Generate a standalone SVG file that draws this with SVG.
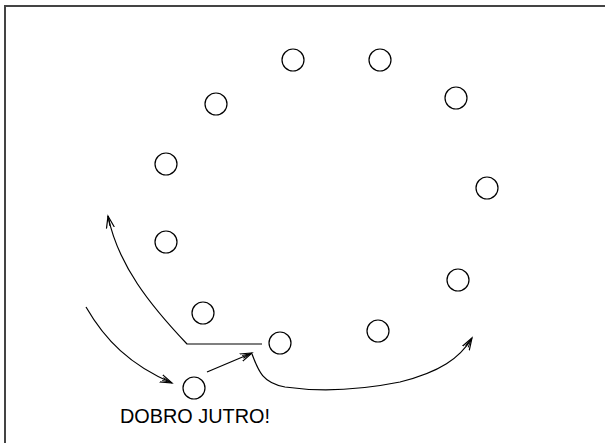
<svg xmlns="http://www.w3.org/2000/svg" width="605" height="443" viewBox="0 0 605 443">
<defs>
<style>
.node{fill:#fff;stroke:#000;stroke-width:1.2}
.conn{fill:none;stroke:#000;stroke-width:1.2}
.lbl{font-family:"Liberation Sans",Arial,sans-serif;font-size:19.5px;fill:#000}
</style>
<marker id="arr" markerWidth="14" markerHeight="10" refX="12" refY="5" orient="auto" markerUnits="userSpaceOnUse">
<path d="M0,1 L12,5 L0,9" fill="none" stroke="#000" stroke-width="1.2"/>
<path d="M2,5 L12,5" stroke="#000" stroke-width="1.2"/>
</marker>
<marker id="arr2" markerWidth="14" markerHeight="10" refX="12" refY="5" orient="auto" markerUnits="userSpaceOnUse">
<path d="M0,1 L12,5 L0,9" fill="none" stroke="#000" stroke-width="1.2"/>
<path d="M2,3.5 L11,5 M2,6.5 L11,5" stroke="#000" stroke-width="1"/>
</marker>
</defs>
<rect x="5" y="6" width="610" height="450" fill="#fff" stroke="#444" stroke-width="2"/>
<g id="connectors">
<path class="conn" d="M262,344 L187,344 C150,305 118,265 108,216" marker-end="url(#arr)"/>
<path class="conn" d="M86,307 C105,340 130,365 172,383" marker-end="url(#arr2)"/>
<path class="conn" d="M207,372 L252,353" marker-end="url(#arr2)"/>
<path class="conn" d="M252,354 C258,370 262,383 285,387 C320,392 360,390 400,382 C440,372 460,358 472,338" marker-end="url(#arr2)"/>
</g>
<g id="n1"><circle class="node" cx="293" cy="60" r="11"/></g>
<g id="n2"><circle class="node" cx="380" cy="60" r="11"/></g>
<g id="n3"><circle class="node" cx="456" cy="98" r="11"/></g>
<g id="n4"><circle class="node" cx="487" cy="188" r="11"/></g>
<g id="n5"><circle class="node" cx="458" cy="280" r="11"/></g>
<g id="n6"><circle class="node" cx="378" cy="331" r="11"/></g>
<g id="n7"><circle class="node" cx="280" cy="343" r="11"/></g>
<g id="n8"><circle class="node" cx="203" cy="313" r="11"/></g>
<g id="n9"><circle class="node" cx="166" cy="242" r="11"/></g>
<g id="n10"><circle class="node" cx="166" cy="164" r="11"/></g>
<g id="n11"><circle class="node" cx="216" cy="104" r="11"/></g>
<g id="n12"><circle class="node" cx="194" cy="388" r="11"/></g>
<g id="label"><text class="lbl" x="120" y="423" textLength="150" lengthAdjust="spacingAndGlyphs">DOBRO JUTRO!</text></g>
</svg>
